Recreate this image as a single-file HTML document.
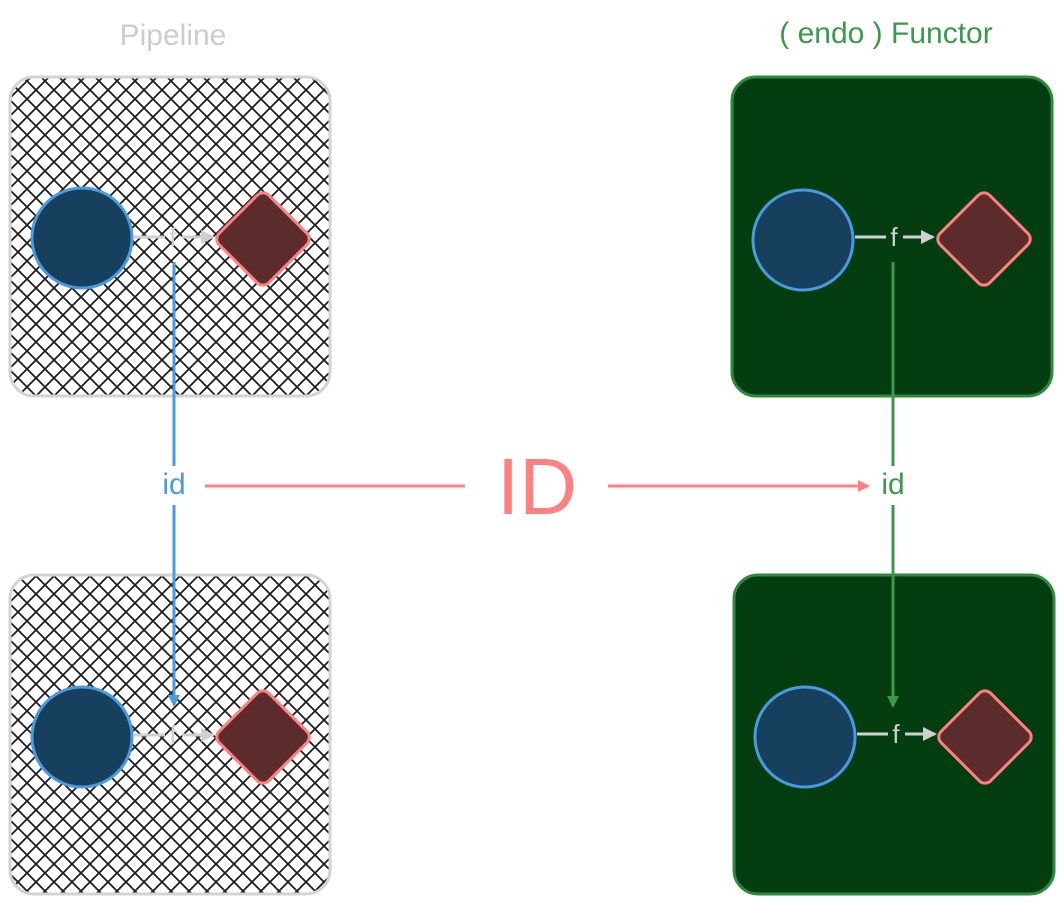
<!DOCTYPE html>
<html><head><meta charset="utf-8"><style>
html,body{margin:0;padding:0;background:#fff;width:1063px;height:905px;overflow:hidden}
svg{display:block}
text{font-family:"Liberation Sans",sans-serif}
</style></head><body>
<svg width="1063" height="905" viewBox="0 0 1063 905">
<defs>
<pattern id="hatch" width="18" height="18" patternUnits="userSpaceOnUse">
<path d="M0,0 L18,18 M18,0 L0,18 M-3,15 L3,21 M15,-3 L21,3 M-3,3 L3,-3 M15,21 L21,15" stroke="#1e1e1e" stroke-width="1.8"/>
</pattern>
<marker id="ag" markerWidth="14" markerHeight="14" refX="12" refY="7" orient="auto" markerUnits="userSpaceOnUse" viewBox="0 0 14 14"><path d="M0,0 L14,7 L0,14z" fill="#d0d0d0"/></marker>
<marker id="ab" markerWidth="12" markerHeight="12" refX="10" refY="6" orient="auto" markerUnits="userSpaceOnUse" viewBox="0 0 12 12"><path d="M0,0 L12,6 L0,12z" fill="#4a9ae0"/></marker>
<marker id="agr" markerWidth="12" markerHeight="12" refX="10" refY="6" orient="auto" markerUnits="userSpaceOnUse" viewBox="0 0 12 12"><path d="M0,0 L12,6 L0,12z" fill="#3a9a4a"/></marker>
<marker id="ar" markerWidth="12" markerHeight="12" refX="10" refY="6" orient="auto" markerUnits="userSpaceOnUse" viewBox="0 0 12 12"><path d="M0,0 L12,6 L0,12z" fill="#ff8080"/></marker>
</defs>

<text x="173" y="45" font-size="30" fill="#cccccc" text-anchor="middle">Pipeline</text>
<text x="886" y="43" font-size="30" fill="#3a9a4a" text-anchor="middle">( endo ) Functor</text>

<rect x="10" y="77" width="320" height="319" rx="24" fill="url(#hatch)" stroke="#d3d3d3" stroke-width="3"/>
<rect x="10" y="575" width="320" height="319" rx="24" fill="url(#hatch)" stroke="#d3d3d3" stroke-width="3"/>
<rect x="732" y="77" width="320" height="319" rx="24" fill="#043d0f" stroke="#2f8a3f" stroke-width="3"/>
<rect x="734" y="575" width="320" height="319" rx="24" fill="#043d0f" stroke="#2f8a3f" stroke-width="3"/>

<g>
<circle cx="82" cy="238" r="50" fill="#17405f" stroke="#4a9ae0" stroke-width="3"/>
<line x1="134" y1="237" x2="165" y2="237" stroke="#d0d0d0" stroke-width="3"/>
<line x1="182" y1="237" x2="213" y2="237" stroke="#d0d0d0" stroke-width="3" marker-end="url(#ag)"/>
<text x="173" y="246" font-size="26" fill="#d0d0d0" text-anchor="middle">f</text>
<rect x="228" y="204" width="70" height="70" rx="8" transform="rotate(45 263 239)" fill="#5c2b2b" stroke="#ff8080" stroke-width="3"/>
</g>
<g>
<circle cx="82" cy="737" r="50" fill="#17405f" stroke="#4a9ae0" stroke-width="3"/>
<line x1="134" y1="735" x2="165" y2="735" stroke="#d0d0d0" stroke-width="3"/>
<line x1="182" y1="735" x2="213" y2="735" stroke="#d0d0d0" stroke-width="3" marker-end="url(#ag)"/>
<text x="173" y="744" font-size="26" fill="#d0d0d0" text-anchor="middle">f</text>
<rect x="228" y="702" width="70" height="70" rx="8" transform="rotate(45 263 737)" fill="#5c2b2b" stroke="#ff8080" stroke-width="3"/>
</g>
<g>
<circle cx="803" cy="240" r="50" fill="#17405f" stroke="#4a9ae0" stroke-width="3"/>
<line x1="855" y1="237" x2="886" y2="237" stroke="#d0d0d0" stroke-width="3"/>
<line x1="903" y1="237" x2="933" y2="237" stroke="#d0d0d0" stroke-width="3" marker-end="url(#ag)"/>
<text x="894" y="246" font-size="26" fill="#d0d0d0" text-anchor="middle">f</text>
<rect x="949" y="204" width="70" height="70" rx="8" transform="rotate(45 984 239)" fill="#5c2b2b" stroke="#ff8080" stroke-width="3"/>
</g>
<g>
<circle cx="805" cy="737" r="50" fill="#17405f" stroke="#4a9ae0" stroke-width="3"/>
<line x1="857" y1="734" x2="888" y2="734" stroke="#d0d0d0" stroke-width="3"/>
<line x1="905" y1="734" x2="935" y2="734" stroke="#d0d0d0" stroke-width="3" marker-end="url(#ag)"/>
<text x="896" y="743" font-size="26" fill="#d0d0d0" text-anchor="middle">f</text>
<rect x="950" y="702" width="70" height="70" rx="8" transform="rotate(45 985 737)" fill="#5c2b2b" stroke="#ff8080" stroke-width="3"/>
</g>

<line x1="174" y1="262" x2="174" y2="466" stroke="#4a9ae0" stroke-width="3"/>
<line x1="174" y1="505" x2="174" y2="705" stroke="#4a9ae0" stroke-width="3" marker-end="url(#ab)"/>
<text x="174" y="494" font-size="30" fill="#4a9ae0" text-anchor="middle">id</text>

<line x1="893" y1="262" x2="893" y2="466" stroke="#3a9a4a" stroke-width="3"/>
<line x1="893" y1="505" x2="893" y2="706" stroke="#3a9a4a" stroke-width="3" marker-end="url(#agr)"/>
<text x="893" y="494" font-size="30" fill="#3a9a4a" text-anchor="middle">id</text>

<line x1="205" y1="486" x2="465" y2="486" stroke="#ff8080" stroke-width="3"/>
<line x1="608" y1="486" x2="868" y2="486" stroke="#ff8080" stroke-width="3" marker-end="url(#ar)"/>
<text x="537" y="514" font-size="80" fill="#ff8080" text-anchor="middle">ID</text>
</svg>
</body></html>
